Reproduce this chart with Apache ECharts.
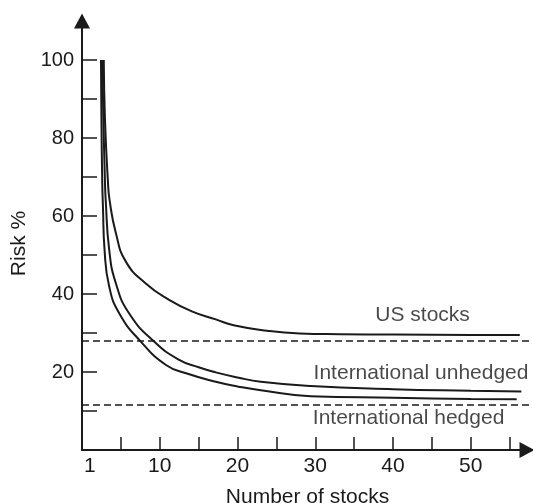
<!DOCTYPE html>
<html>
<head>
<meta charset="utf-8">
<script src="https://cdn.jsdelivr.net/npm/echarts@6/dist/echarts.min.js"></script>
<style>
	html, body { margin: 0; padding: 0; background: #fff; }
	#chart { width: 533px; height: 503px; }
</style>
</head>
<body>
<div id="chart"></div>
<script>
'use strict';

// Risk curves, [number of stocks, risk %]
var usX = [2.8, 2.95, 3.33, 3.55, 4.36, 5.64, 8.2, 11.2, 14.2, 17.2, 19.5, 23.8, 28, 33.2, 40, 50, 56.3],
		usY = [100, 85, 69, 64, 55.6, 48.3, 42.7, 38.5, 35.5, 33.5, 32, 30.6, 29.9, 29.7, 29.6, 29.5, 29.5];

var unhedgedX = [2.6, 2.75, 2.95, 3.05, 3.5, 4.36, 6.07, 9.27, 12.5, 15, 17.2, 20, 23, 29.4, 40, 50, 56.5],
		unhedgedY = [100, 85, 69, 64, 51.3, 42.7, 35, 27.8, 23.1, 21.2, 19.9, 18.6, 17.5, 16.4, 15.6, 15.2, 15];

var hedgedX = [2.44, 2.5, 2.6, 2.7, 2.9, 3.5, 4.8, 7.56, 10.8, 13.5, 17.2, 20, 23, 29.4, 40, 50, 55.9],
		hedgedY = [100, 85, 69, 62, 51.3, 41.9, 35, 27.8, 21.8, 19.6, 17.5, 16.3, 15.3, 13.8, 13.4, 13.1, 13];

// dashed reference levels
var dashLevels = [27.9, 11.6];

// curve names and where they sit
var noteNames = ['US stocks', 'International unhedged', 'International hedged'],
		noteX = [43.8, 43.6, 42],
		noteY = [34.6, 19.7, 8.2];

var xTicks = [5, 10, 15, 20, 25, 30, 35, 40, 45, 50, 55],
		xLabels = [1, 10, 20, 30, 40, 50],
		yTicks = [10, 20, 30, 40, 50, 60, 70, 80, 90, 100],
		yLabels = [20, 40, 60, 80, 100];

function pairs(xs, ys) {
	return xs.map(function (x, i) {
		return [x, ys[i]];
	});
}

var font = 'Liberation Sans',
		ink = '#1a1a1a';

function curve(name, xs, ys) {
	return {
		name: name,
		type: 'line',
		data: pairs(xs, ys),
		smooth: 0.5,
		symbol: 'none',
		lineStyle: { color: ink, width: 2 },
		z: 3
	};
}

var chart = echarts.init(document.getElementById('chart'));

chart.setOption({
	animation: false,
	backgroundColor: '#fff',
	grid: { left: 82, right: 0, top: 21, bottom: 53, containLabel: false, outerBoundsMode: 'none' },
	xAxis: {
		type: 'value',
		min: 0,
		max: 58,
		name: 'Number of stocks',
		nameLocation: 'middle',
		nameGap: 37,
		nameTextStyle: { fontFamily: font, fontSize: 21, color: ink },
		axisLine: {
			show: true,
			symbol: ['none', 'triangle'],
			symbolSize: [16, 15],
			symbolOffset: [0, -6],
			lineStyle: { color: ink, width: 2 }
		},
		axisTick: {
			show: true,
			inside: true,
			length: 13,
			customValues: xTicks,
			lineStyle: { color: ink, width: 1.5 }
		},
		axisLabel: {
			show: true,
			margin: 6,
			customValues: xLabels,
			fontFamily: font,
			fontSize: 21,
			color: ink
		},
		splitLine: { show: false }
	},
	yAxis: {
		type: 'value',
		min: 0,
		max: 110,
		name: 'Risk %',
		nameLocation: 'middle',
		nameGap: 50,
		nameTextStyle: { fontFamily: font, fontSize: 21, color: ink, padding: [0, 16, 0, 0] },
		axisLine: {
			show: true,
			symbol: ['none', 'triangle'],
			symbolSize: [16, 15],
			lineStyle: { color: ink, width: 2 }
		},
		axisTick: {
			show: true,
			inside: true,
			length: 15,
			customValues: yTicks,
			lineStyle: { color: ink, width: 1.5 }
		},
		axisLabel: {
			show: true,
			margin: 8,
			customValues: yLabels,
			fontFamily: font,
			fontSize: 20,
			color: ink
		},
		splitLine: { show: false }
	},
	series: [
		curve('US stocks', usX, usY),
		curve('International unhedged', unhedgedX, unhedgedY),
		curve('International hedged', hedgedX, hedgedY),
		{
			name: 'levels',
			type: 'line',
			data: [],
			markLine: {
				silent: true,
				symbol: ['none', 'none'],
				label: { show: false },
				lineStyle: { color: ink, width: 1.5, type: [7, 4] },
				data: dashLevels.map(function (v) {
					return { yAxis: v };
				})
			}
		},
		{
			name: 'notes',
			type: 'scatter',
			symbolSize: 0,
			data: noteNames.map(function (n, i) {
				return { name: n, value: [noteX[i], noteY[i]] };
			}),
			label: {
				show: true,
				position: 'inside',
				formatter: '{b}',
				fontFamily: font,
				fontSize: 21,
				color: ink
			}
		}
	]
});
</script>
</body>
</html>
